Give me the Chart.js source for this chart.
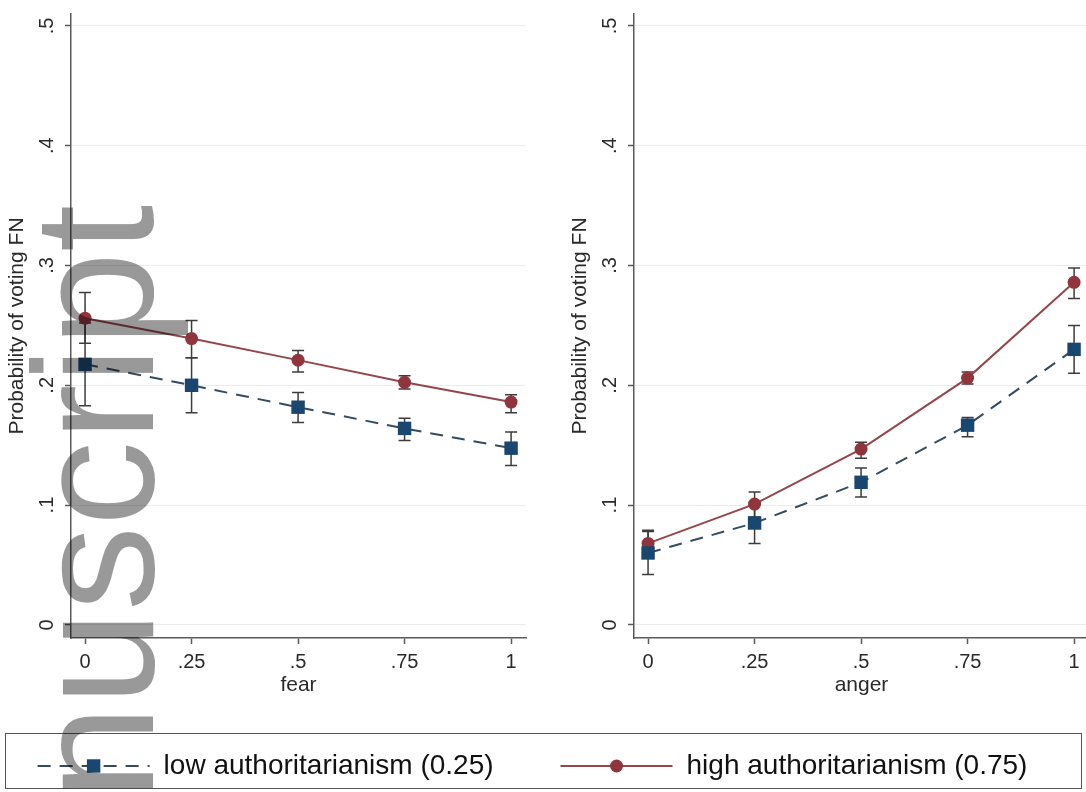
<!DOCTYPE html>
<html>
<head>
<meta charset="utf-8">
<script src="https://cdn.jsdelivr.net/npm/chart.js@4/dist/chart.umd.min.js"></script>
<style>
html,body{margin:0;padding:0;background:#fff;width:1086px;height:792px;overflow:hidden;position:relative;font-family:"Liberation Sans",Arial,sans-serif;}
canvas{position:absolute;}
#cFear{left:0;top:0;}
#cAnger{left:563px;top:0;}
#legendBox{position:absolute;left:5px;top:733px;width:1077px;height:56px;border:1.5px solid #555;box-sizing:border-box;}
#cLegend{left:-76px;top:733px;}
#wm{position:absolute;left:9px;top:800px;font-family:"Liberation Sans",Arial,sans-serif;font-size:170px;line-height:1;color:rgba(0,0,0,0.4);transform-origin:0 0;transform:rotate(-90deg);white-space:nowrap;pointer-events:none;}
</style>
</head>
<body>
<canvas id="cFear" width="545" height="700"></canvas>
<canvas id="cAnger" width="545" height="700"></canvas>
<div id="legendBox"></div>
<canvas id="cLegend" width="1160" height="140"></canvas>
<div id="wm">nuscript</div>
<script>
// ---- data ----
const xVals = [0, 0.25, 0.5, 0.75, 1];
const xTicks = [0, 0.25, 0.5, 0.75, 1];
const xTickLabels = ['0', '.25', '.5', '.75', '1'];
const yTicks = [0, 0.1, 0.2, 0.3, 0.4, 0.5];
const yTickLabels = ['0', '.1', '.2', '.3', '.4', '.5'];
const yTitle = 'Probability of voting FN';
const legendLabels = ['low authoritarianism (0.25)', 'high authoritarianism (0.75)'];

const fearLow   = [0.2175, 0.200, 0.1817, 0.164, 0.1475];
const fearLowLo = [0.183, 0.177, 0.169, 0.154, 0.133];
const fearLowHi = [0.252, 0.223, 0.194, 0.1725, 0.161];
const fearHigh   = [0.256, 0.239, 0.221, 0.2025, 0.186];
const fearHighLo = [0.235, 0.223, 0.211, 0.197, 0.177];
const fearHighHi = [0.2775, 0.254, 0.229, 0.208, 0.192];

const angerLow   = [0.060, 0.085, 0.119, 0.1667, 0.230];
const angerLowLo = [0.042, 0.068, 0.1067, 0.157, 0.210];
const angerLowHi = [0.078, 0.102, 0.131, 0.173, 0.250];
const angerHigh   = [0.068, 0.1008, 0.1467, 0.206, 0.286];
const angerHighLo = [0.057, 0.090, 0.139, 0.201, 0.2725];
const angerHighHi = [0.079, 0.111, 0.1525, 0.211, 0.298];

// ---- styles ----
const NAVY = '#1a476f';
const MAROON = '#90353b';
const NAVY_LINE = '#344b60';
const MAROON_LINE = '#94464c';
const CI = '#3c3c3c';
const AXIS = '#5a5a5a';
const GRID = '#ececec';
const TEXT = '#2a2a2a';
const FONT = '"Liberation Sans", Arial, sans-serif';
const seriesStyle = [
  {color: NAVY, line: NAVY_LINE, dash: [13, 9], pointStyle: 'rect', radius: 9.5},
  {color: MAROON, line: MAROON_LINE, dash: [], pointStyle: 'circle', radius: 6.5}
];

const errorBars = {
  id: 'errorBars',
  beforeDatasetsDraw(chart) {
    const {ctx, scales: {x, y}} = chart;
    chart.data.datasets.forEach(ds => {
      if (!ds.errLo) return;
      ctx.save();
      ctx.strokeStyle = CI;
      ctx.lineWidth = 1.5;
      ctx.setLineDash([]);
      ds.data.forEach((p, i) => {
        const px = x.getPixelForValue(p.x);
        const y1 = y.getPixelForValue(ds.errLo[i]);
        const y2 = y.getPixelForValue(ds.errHi[i]);
        ctx.beginPath();
        ctx.moveTo(px, y1); ctx.lineTo(px, y2);
        ctx.moveTo(px - 6, y1); ctx.lineTo(px + 6, y1);
        ctx.moveTo(px - 6, y2); ctx.lineTo(px + 6, y2);
        ctx.stroke();
      });
      ctx.restore();
    });
  }
};

const yLabels = {
  id: 'yLabels',
  afterDraw(chart) {
    const {ctx, scales: {y}} = chart;
    ctx.save();
    ctx.font = '20px ' + FONT;
    ctx.fillStyle = TEXT;
    ctx.textAlign = 'center';
    ctx.textBaseline = 'middle';
    y.ticks.forEach((t, i) => {
      const py = y.getPixelForValue(t.value);
      ctx.save();
      ctx.translate(y.right - 24, py);
      ctx.rotate(-Math.PI / 2);
      ctx.fillText(yTickLabels[i], 0, 0);
      ctx.restore();
    });
    ctx.restore();
  }
};

function makePanel(id, xTitle, low, lowLo, lowHi, high, highLo, highHi) {
  const mk = (vals) => xVals.map((x, i) => ({x: x, y: vals[i]}));
  return new Chart(document.getElementById(id), {
    type: 'line',
    data: {
      datasets: [
        {label: legendLabels[0], data: mk(low), errLo: lowLo, errHi: lowHi,
         borderColor: NAVY_LINE, backgroundColor: NAVY, borderWidth: 2, borderDash: seriesStyle[0].dash,
         pointStyle: 'rect', pointRadius: seriesStyle[0].radius, pointBorderWidth: 0, tension: 0},
        {label: legendLabels[1], data: mk(high), errLo: highLo, errHi: highHi,
         borderColor: MAROON_LINE, backgroundColor: MAROON, borderWidth: 2,
         pointStyle: 'circle', pointRadius: seriesStyle[1].radius, pointBorderWidth: 0, tension: 0}
      ]
    },
    options: {
      responsive: false,
      animation: false,
      events: [],
      layout: {padding: {left: 0, right: 19, top: 14, bottom: 0}},
      plugins: {legend: {display: false}, tooltip: {enabled: false}},
      scales: {
        x: {
          type: 'linear', min: -0.033, max: 1.035,
          afterBuildTicks: s => { s.ticks = xTicks.map(v => ({value: v})); },
          afterFit: s => { s.height = 62; },
          ticks: {callback: (v, i) => xTickLabels[i], font: {size: 20, family: FONT}, color: TEXT, padding: 6, maxRotation: 0, autoSkip: false},
          grid: {drawOnChartArea: false, drawTicks: true, tickLength: 6, tickColor: AXIS, tickWidth: 1.5},
          border: {color: AXIS, width: 1.5},
          title: {display: true, text: xTitle, font: {size: 21, family: FONT}, color: TEXT, padding: {top: 0, bottom: 2}}
        },
        y: {
          type: 'linear', min: -0.011, max: 0.51,
          afterBuildTicks: s => { s.ticks = yTicks.map(v => ({value: v})); },
          afterFit: s => { s.width = 71; },
          ticks: {display: false},
          grid: {color: GRID, lineWidth: 1, drawTicks: true, tickLength: 6, tickColor: AXIS, tickWidth: 1.5},
          border: {color: AXIS, width: 1.5},
          title: {display: true, text: yTitle, font: {size: 21, family: FONT}, color: TEXT, padding: {top: 5, bottom: 0}}
        }
      }
    },
    plugins: [errorBars, yLabels]
  });
}

makePanel('cFear', 'fear', fearLow, fearLowLo, fearLowHi, fearHigh, fearHighLo, fearHighHi);
makePanel('cAnger', 'anger', angerLow, angerLowLo, angerLowHi, angerHigh, angerHighLo, angerHighHi);

// ---- legend ----
const SAMPLE_OFFSET = 57, SAMPLE_W = 112;
const legendSamples = {
  id: 'legendSamples',
  afterDraw(chart) {
    const ctx = chart.ctx;
    chart.legend.legendHitBoxes.forEach((hb, i) => {
      const st = seriesStyle[i];
      const x0 = hb.left + SAMPLE_OFFSET, x1 = x0 + SAMPLE_W, yc = hb.top + hb.height / 2;
      ctx.save();
      ctx.strokeStyle = st.line;
      ctx.fillStyle = st.color;
      ctx.lineWidth = 2;
      ctx.setLineDash(st.dash);
      ctx.beginPath(); ctx.moveTo(x0, yc); ctx.lineTo(x1, yc); ctx.stroke();
      ctx.setLineDash([]);
      Chart.helpers.drawPoint(ctx, {pointStyle: st.pointStyle, radius: st.radius, rotation: 0, borderWidth: 0}, (x0 + x1) / 2, yc);
      ctx.restore();
    });
  }
};

new Chart(document.getElementById('cLegend'), {
  type: 'line',
  data: {
    datasets: legendLabels.map((l, i) => ({label: l, data: [], borderColor: seriesStyle[i].color}))
  },
  options: {
    responsive: false,
    animation: false,
    events: [],
    layout: {padding: {left: 0, right: 0, top: 9, bottom: 0}},
    scales: {x: {display: false}, y: {display: false}},
    plugins: {
      tooltip: {enabled: false},
      legend: {
        display: true, position: 'top',
        labels: {
          boxWidth: SAMPLE_OFFSET + SAMPLE_W,
          padding: 10,
          color: '#111',
          font: {size: 28, family: FONT},
          generateLabels: () => legendLabels.map((l, i) => ({
            text: l, fillStyle: 'rgba(0,0,0,0)', strokeStyle: 'rgba(0,0,0,0)', lineWidth: 0, hidden: false, datasetIndex: i, fontColor: '#111'
          }))
        }
      }
    }
  },
  plugins: [legendSamples]
});
</script>
</body>
</html>
